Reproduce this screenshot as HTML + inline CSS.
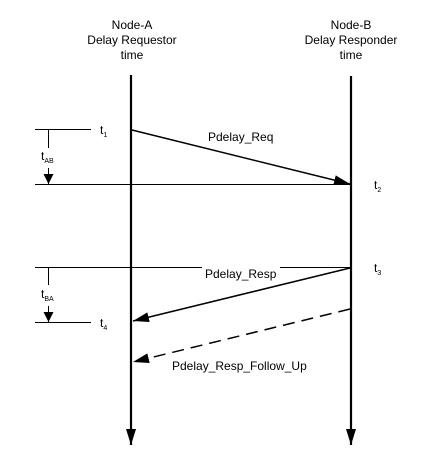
<!DOCTYPE html>
<html><head><meta charset="utf-8"><style>
html,body{margin:0;padding:0;background:#fff;width:446px;height:466px;overflow:hidden}
text{font-family:"Liberation Sans",Arial,sans-serif;fill:#000}
</style></head><body>
<svg width="446" height="466" viewBox="0 0 446 466">
<defs>
<marker id="ah" markerWidth="10" markerHeight="10" refX="10" refY="5" orient="auto" markerUnits="userSpaceOnUse"><path d="M0,0 L10,5 L0,10 Z" fill="#000"/></marker>
<marker id="ahb" markerWidth="16" markerHeight="10" refX="16" refY="5" orient="auto" markerUnits="userSpaceOnUse"><path d="M0,0 L16,5 L0,10 Z" fill="#000"/></marker>
</defs>
<g font-size="12" text-anchor="middle">
<text x="132" y="29">Node-A</text><text x="132" y="44">Delay Requestor</text><text x="132" y="59">time</text></g>
<g font-size="12" text-anchor="middle">
<text x="351" y="29">Node-B</text><text x="351" y="44">Delay Responder</text><text x="351" y="59">time</text></g>
<line x1="131" y1="75" x2="131" y2="445" stroke="#000" stroke-width="2.2" marker-end="url(#ahb)"/>
<line x1="351" y1="76" x2="351" y2="445" stroke="#000" stroke-width="2.2" marker-end="url(#ahb)"/>
<g stroke="#000" stroke-width="1">
<line x1="35" y1="129.5" x2="91" y2="129.5"/>
<line x1="35" y1="184.5" x2="350" y2="184.5"/>
<line x1="35" y1="267.5" x2="202" y2="267.5"/>
<line x1="280" y1="267.5" x2="350" y2="267.5"/>
<line x1="35" y1="322.5" x2="91" y2="322.5"/>
<line x1="48.5" y1="130" x2="48.5" y2="148"/>
<line x1="48.5" y1="168" x2="48.5" y2="184" marker-end="url(#ah)"/>
<line x1="48.5" y1="268" x2="48.5" y2="285"/>
<line x1="48.5" y1="306" x2="48.5" y2="322" marker-end="url(#ah)"/>
</g>
<line x1="132" y1="130" x2="350" y2="184" stroke="#000" stroke-width="1.5" marker-end="url(#ahb)"/>
<line x1="350" y1="268" x2="133" y2="321" stroke="#000" stroke-width="1.5" marker-end="url(#ahb)"/>
<line x1="350" y1="309" x2="133" y2="362" stroke="#000" stroke-width="1.5" stroke-dasharray="12,7" marker-end="url(#ahb)"/>
<g font-size="12">
<text x="208" y="141">Pdelay_Req</text>
<text x="205" y="278">Pdelay_Resp</text>
<text x="172" y="370">Pdelay_Resp_Follow_Up</text>
<text x="100" y="134">t<tspan font-size="7" dy="3">1</tspan></text>
<text x="374" y="189">t<tspan font-size="7" dy="3">2</tspan></text>
<text x="374" y="272">t<tspan font-size="7" dy="3">3</tspan></text>
<text x="100" y="327">t<tspan font-size="7" dy="3">4</tspan></text>
<text x="41" y="160">t<tspan font-size="7" dy="3">AB</tspan></text>
<text x="41" y="298">t<tspan font-size="7" dy="3">BA</tspan></text>
</g>
</svg>
</body></html>
